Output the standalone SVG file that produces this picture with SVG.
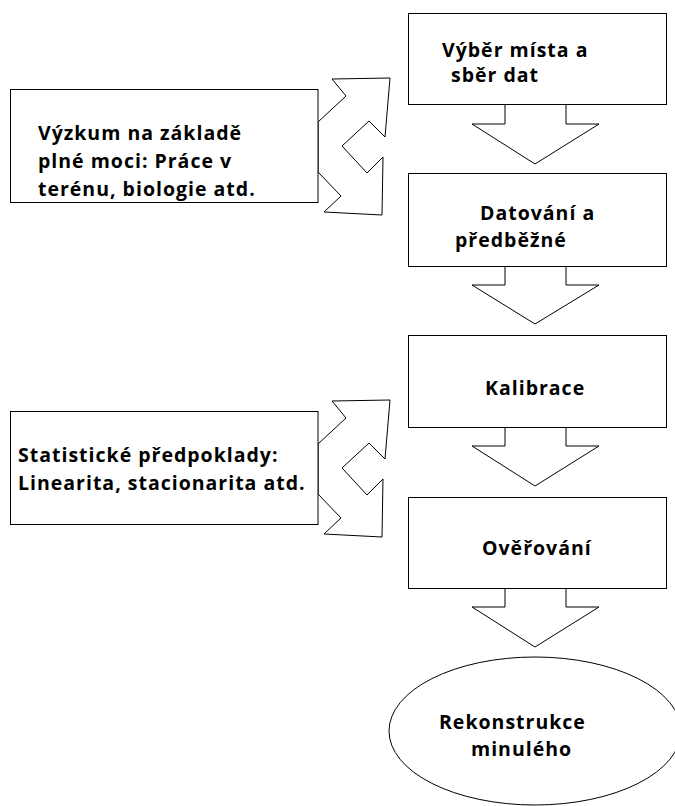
<svg xmlns="http://www.w3.org/2000/svg" width="675" height="806" viewBox="0 0 675 806">
<style>
.box{fill:#fff;stroke:#000;stroke-width:1}
.conn{fill:#fff;stroke:#000;stroke-width:1;stroke-linejoin:miter}
text{font-family:"Open Sans","Liberation Sans",sans-serif;font-weight:700;font-size:19.5px;letter-spacing:1px;fill:#000}
</style>
<rect width="675" height="806" fill="#fff"/>
<g id="connectors">
  <polygon class="conn" points="505,104 505,124 472,124 535,164 599,124 566,124 566,104"/>
  <polygon class="conn" points="505,266 505,285 472,285 535,324 599,285 566,285 566,266"/>
  <polygon class="conn" points="505,427 505,446 472,446 535,486 599,446 566,446 566,427"/>
  <polygon class="conn" points="505,588 505,607 472,607 535,647 599,607 566,607 566,588"/>
  <polygon class="conn" points="318,122 346,96 332,79 390,78 385,137 369,121 342,146 367,173 383,157 382,215 324,212 341,196 318,172"/>
  <polygon class="conn" points="318,444 346,418 332,401 390,400 385,459 369,443 342,468 367,495 383,479 382,537 324,534 341,518 318,494"/>
</g>
<g id="vyber">
  <rect class="box" x="408.5" y="13.5" width="258" height="91"/>
  <text x="442" y="57">Výběr místa a</text>
  <text x="451" y="82">sběr dat</text>
</g>
<g id="datovani">
  <rect class="box" x="408.5" y="173.5" width="258" height="93"/>
  <text x="480" y="220">Datování a</text>
  <text x="455" y="247">předběžné</text>
</g>
<g id="kalibrace">
  <rect class="box" x="408.5" y="335.5" width="258" height="92"/>
  <text x="485" y="395">Kalibrace</text>
</g>
<g id="overovani">
  <rect class="box" x="408.5" y="497.5" width="258" height="91"/>
  <text x="482" y="555">Ověřování</text>
</g>
<g id="rekonstrukce">
  <ellipse class="box" cx="535" cy="731" rx="146" ry="74"/>
  <text x="439" y="729">Rekonstrukce</text>
  <text x="471" y="756">minulého</text>
</g>
<g id="vyzkum">
  <rect class="box" x="10.5" y="89.5" width="307.5" height="113"/>
  <text x="38" y="140">Výzkum na základě</text>
  <text x="38" y="168">plné moci: Práce v</text>
  <text x="38" y="196">terénu, biologie atd.</text>
</g>
<g id="statisticke">
  <rect class="box" x="10.5" y="411.5" width="307.5" height="113"/>
  <text x="18" y="462">Statistické předpoklady:</text>
  <text x="18" y="490">Linearita, stacionarita atd.</text>
</g>
</svg>
